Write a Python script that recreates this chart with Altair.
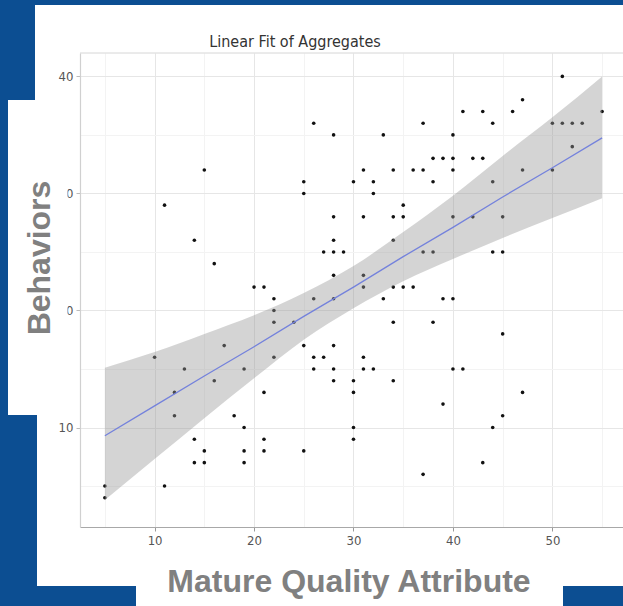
import altair as alt
import pandas as pd

# ---- data ----
x_vals = [5, 5, 10, 11, 11, 12, 12, 13, 14, 14, 14, 15, 15, 15, 16, 16, 17, 18, 19, 19,
          19, 19, 20, 21, 21, 21, 21, 22, 22, 22, 22, 24, 25, 25, 25, 25, 26, 26, 26, 26,
          27, 27, 28, 28, 28, 28, 28, 28, 28, 28, 28, 29, 30, 30, 30, 30, 30, 31, 31, 31,
          31, 31, 31, 32, 32, 32, 33, 33, 34, 34, 34, 34, 34, 34, 35, 35, 35, 36, 36, 37,
          37, 37, 37, 38, 38, 38, 38, 39, 39, 39, 40, 40, 40, 40, 40, 40, 41, 41, 42, 42,
          43, 43, 43, 44, 44, 44, 44, 45, 45, 45, 45, 46, 47, 47, 47, 50, 50, 51, 51, 52,
          52, 53, 55]
y_vals = [5, 4, 16, 29, 5, 13, 11, 15, 26, 9, 7, 32, 8, 7, 24, 14, 17, 11, 15, 10,
          8, 7, 22, 22, 13, 9, 8, 21, 20, 19, 16, 19, 31, 30, 17, 8, 36, 21, 16, 15,
          25, 16, 35, 28, 26, 25, 23, 21, 17, 15, 14, 25, 31, 14, 13, 10, 9, 32, 28, 23,
          22, 16, 15, 31, 30, 15, 35, 21, 32, 28, 26, 22, 19, 14, 29, 28, 22, 32, 22, 36,
          32, 25, 6, 33, 31, 25, 19, 33, 21, 12, 35, 33, 32, 28, 21, 15, 37, 15, 33, 28,
          37, 33, 7, 36, 31, 25, 10, 28, 25, 18, 11, 37, 38, 32, 13, 36, 32, 40, 36, 36,
          34, 36, 37]

# fitted line and its confidence band, read at these x positions
band_x = [5, 10, 15, 20, 25, 30, 35, 40, 45, 50, 55]
fit_y = [9.3, 11.85, 14.4, 16.9, 19.5, 22.0, 24.6, 27.1, 29.7, 32.2, 34.75]
band_lo = [3.8, 7.3, 10.8, 14.2, 17.5, 20.2, 22.5, 24.4, 26.2, 27.9, 29.6]
band_hi = [15.1, 16.45, 18.0, 19.6, 21.5, 23.8, 26.7, 29.8, 33.2, 36.5, 40.0]

x_grid = [5, 10, 15, 20, 25, 30, 35, 40, 45, 50, 55]
y_grid = [5, 10, 15, 20, 25, 30, 35, 40]

title_text = "Linear Fit of Aggregates"
x_title = "Mature Quality Attribute"
y_title = "Behaviors"

BLUE = "#0c4e92"
NARROW = "DejaVu Sans Condensed, Liberation Sans Narrow, Arial Narrow, Liberation Sans, sans-serif"

pts = pd.DataFrame({"x": x_vals, "y": y_vals})
band = pd.DataFrame({"x": band_x, "lo": band_lo, "hi": band_hi, "fit": fit_y})
one = pd.DataFrame({"k": [0]})

xscale = alt.Scale(domain=[2.5, 57.1], nice=False, zero=False)
yscale = alt.Scale(domain=[1.5, 42.0], nice=False, zero=False)

major = "datum.value % 10 === 0"


def make_axis(values, domain_color, tick_color):
    return alt.Axis(
        values=values,
        title=None,
        labelExpr=f"{major} ? datum.label : ''",
        labelFont=NARROW,
        labelFontSize=13,
        labelColor="#555555",
        labelPadding=3,
        grid=True,
        gridColor={"condition": {"test": major, "value": "#e6e6e6"}, "value": "#f3f3f3"},
        gridWidth=1,
        tickSize=4,
        tickColor=tick_color,
        tickOpacity={"condition": {"test": major, "value": 1}, "value": 0},
        domainColor=domain_color,
        domainWidth=1.2,
    )


xaxis = make_axis(x_grid, "#a8a8a8", "#999999")
yaxis = make_axis(y_grid, "#d0d0d0", "#bbbbbb")

points = alt.Chart(pts).mark_circle(size=13, color="#111111", opacity=1).encode(
    x=alt.X("x:Q", scale=xscale, axis=xaxis),
    y=alt.Y("y:Q", scale=yscale, axis=yaxis),
)

ribbon = alt.Chart(band).mark_area(color="#999999", opacity=0.42, interpolate="monotone").encode(
    x=alt.X("x:Q", scale=xscale, axis=xaxis),
    y=alt.Y("lo:Q", scale=yscale, axis=yaxis),
    y2="hi:Q",
)

line = alt.Chart(band).mark_line(color="#7482dc", strokeWidth=1.3).encode(
    x=alt.X("x:Q", scale=xscale, axis=xaxis),
    y=alt.Y("fit:Q", scale=yscale, axis=yaxis),
)

top_border = alt.Chart(one).mark_rule(color="#d6d6d6", strokeWidth=1).encode(
    x=alt.value(0), x2=alt.value(543), y=alt.value(0)
)


def block(x1, x2, y1, y2, color):
    return alt.Chart(one).mark_rect(color=color).encode(
        x=alt.value(x1), x2=alt.value(x2), y=alt.value(y1), y2=alt.value(y2)
    )


# slide frame (offsets relative to the plot area's top-left corner)
frame = [
    block(-80, 543, -53, -48, BLUE),
    block(-80, -45, -53, 47, BLUE),
    block(-80, -72, 47, 362, BLUE),
    block(-80, -43, 362, 553, BLUE),
    block(-80, 56, 533, 553, BLUE),
    block(483, 543, 533, 553, BLUE),
    block(-72, -12.5, 47, 362, "#ffffff"),
]

title = alt.Chart(one).mark_text(
    text=title_text, font=NARROW, fontSize=16, color="#333333",
    align="center", baseline="alphabetic",
).encode(x=alt.value(215), y=alt.value(-6))

ylab = alt.Chart(one).mark_text(
    text=y_title, font="Liberation Sans, Arial, sans-serif", fontSize=32, fontWeight="bold",
    color="#808080", align="center", baseline="alphabetic", angle=270,
).encode(x=alt.value(-30), y=alt.value(205))

xlab = alt.Chart(one).mark_text(
    text=x_title, font="Liberation Sans, Arial, sans-serif", fontSize=32, fontWeight="bold",
    color="#808080", align="center", baseline="alphabetic",
).encode(x=alt.value(269), y=alt.value(539))

chart = alt.layer(
    points, ribbon, line, top_border, *frame, title, ylab, xlab
).properties(
    width=543,
    height=474,
    padding={"left": 80, "top": 53, "right": 0, "bottom": 79},
    autosize=alt.AutoSizeParams(type="none"),
).configure(
    background="#ffffff",
).configure_view(
    stroke=None,
)

chart.save("out.html", embed_options={"renderer": "svg", "actions": False})
